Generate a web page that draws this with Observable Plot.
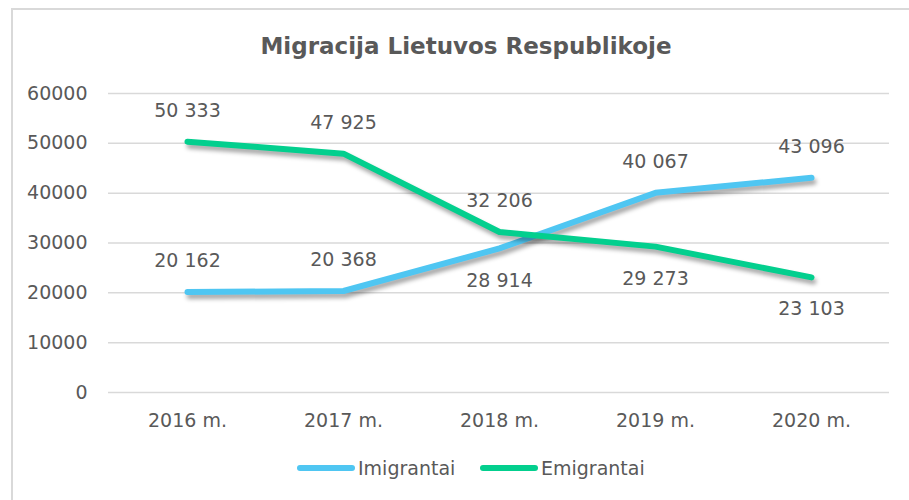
<!DOCTYPE html>
<html>
<head>
<meta charset="utf-8">
<script src="https://cdn.jsdelivr.net/npm/d3@7"></script>
<script src="https://cdn.jsdelivr.net/npm/@observablehq/plot@0.6"></script>
<style>
  html, body { margin: 0; padding: 0; background: #fff; width: 909px; height: 500px; overflow: hidden; }
  #frame { position: absolute; left: 11px; top: 8px; width: 906px; height: 520px;
           border-left: 2px solid #d9d9d9; border-top: 2px solid #d9d9d9; background: #fff; }
  #title { position: absolute; left: 0; top: 23px; width: 906px; text-align: center;
           font: bold 23px "DejaVu Sans", sans-serif; color: #595959; }
  #chart { position: absolute; left: 0; top: 60px; }
  #legend { position: absolute; top: 447px; left: 0; width: 906px; height: 24px;
            font: 19px "DejaVu Sans", sans-serif; color: #595959; }
  .item { position: absolute; top: 0; display: flex; align-items: center; }
  .sw { width: 58px; height: 6px; border-radius: 3px; margin-right: 3px; }
</style>
</head>
<body>
<div id="frame">
  <div id="title">Migracija Lietuvos Respublikoje</div>
  <div id="chart"></div>
  <div id="legend"></div>
</div>
<script>
const years = ["2016 m.", "2017 m.", "2018 m.", "2019 m.", "2020 m."];
const imigrantai = [20162, 20368, 28914, 40067, 43096];
const emigrantai = [50333, 47925, 32206, 29273, 23103];
const imigrantaiLabelPos = ["above", "above", "below", "above", "above"];
const emigrantaiLabelPos = ["above", "above", "above", "below", "below"];
const seriesNames = ["Imigrantai", "Emigrantai"];
const seriesColors = ["#4fc6f2", "#03cf8e"];
const yTicks = [0, 10000, 20000, 30000, 40000, 50000, 60000];

const rows = [];
years.forEach((y, i) => {
  rows.push({year: y, value: imigrantai[i], series: seriesNames[0], pos: imigrantaiLabelPos[i]});
});
years.forEach((y, i) => {
  rows.push({year: y, value: emigrantai[i], series: seriesNames[1], pos: emigrantaiLabelPos[i]});
});
const fmt = v => d3.format(",")(v).replace(/,/g, " ");
const textColor = "#595959";

const chart = Plot.plot({
  width: 906,
  height: 370,
  marginLeft: 95,
  marginRight: 30,
  marginTop: 23,
  marginBottom: 48,
  style: {fontFamily: "DejaVu Sans, sans-serif", fontSize: "19px", color: textColor, background: "transparent", overflow: "visible"},
  x: {type: "point", domain: years, padding: 0.5, label: null, tickSize: 0, tickPadding: 21},
  y: {domain: [0, 60000], ticks: yTicks, tickFormat: d => String(d), label: null, tickSize: 0, tickPadding: 21},
  color: {domain: seriesNames, range: seriesColors},
  marks: [
    Plot.ruleY(yTicks, {stroke: "#d9d9d9", strokeWidth: 1.5}),
    Plot.line(rows, {x: "year", y: "value", z: "series", stroke: "series", strokeWidth: 6,
      strokeLinecap: "round", strokeLinejoin: "round", className: "series-line"}),
    Plot.text(rows.filter(d => d.pos === "above"), {x: "year", y: "value", text: d => fmt(d.value),
      dy: -31, fill: textColor, fontSize: 19}),
    Plot.text(rows.filter(d => d.pos === "below"), {x: "year", y: "value", text: d => fmt(d.value),
      dy: 32, fill: textColor, fontSize: 19})
  ]
});
d3.select(chart).selectAll(".series-line path").style("filter", "drop-shadow(2px 4px 2px rgba(0,0,0,0.35))");
document.getElementById("chart").appendChild(chart);

const legend = document.getElementById("legend");
const legendX = [284, 467];
seriesNames.forEach((name, i) => {
  const item = document.createElement("div");
  item.className = "item";
  item.style.left = legendX[i] + "px";
  const sw = document.createElement("div");
  sw.className = "sw";
  sw.style.background = seriesColors[i];
  const t = document.createElement("span");
  t.textContent = name;
  item.appendChild(sw);
  item.appendChild(t);
  legend.appendChild(item);
});
</script>
</body>
</html>
